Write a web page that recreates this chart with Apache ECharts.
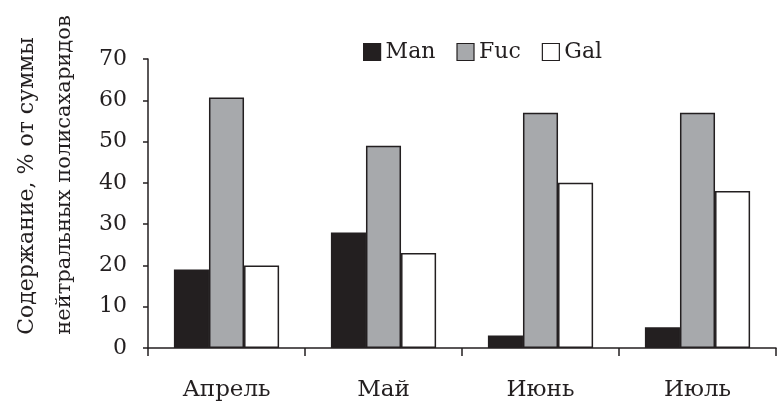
<!DOCTYPE html>
<html>
<head>
<meta charset="utf-8">
<script src="https://cdn.jsdelivr.net/npm/echarts@6/dist/echarts.min.js"></script>
<style>
  html, body { margin: 0; padding: 0; background: #fff; }
  #chart { width: 778px; height: 410px; }
</style>
</head>
<body>
<div id="chart"></div>
<script>
// Monthly content of neutral polysaccharide sugars, %
const months = ['Апрель', 'Май', 'Июнь', 'Июль'];
const manValues = [19, 28, 3, 5];
const fucValues = [60.7, 49, 57, 57];
const galValues = [20, 23, 40, 38];
const yTicks = { min: 0, max: 70, interval: 10 };

const FONT = 'DejaVu Serif';
const INK = '#231f20';

const chart = echarts.init(document.getElementById('chart'), null, { renderer: 'canvas' });

function barSeries(name, data, color) {
  return {
    name: name,
    type: 'bar',
    data: data,
    barGap: '0%',
    barCategoryGap: '33%',
    itemStyle: { color: color, borderColor: INK, borderWidth: 1.5 },
    emphasis: { disabled: true }
  };
}

chart.setOption({
  animation: false,
  backgroundColor: '#fff',
  textStyle: { fontFamily: FONT, color: INK },
  grid: { left: 148, right: 2, top: 59, bottom: 62, containLabel: false },
  legend: {
    left: 363,
    top: 41,
    padding: 0,
    itemWidth: 17,
    itemHeight: 17,
    itemGap: 21,
    icon: 'rect',
    textStyle: { fontFamily: FONT, fontSize: 22, color: INK },
    data: ['Man', 'Fuc', 'Gal'],
    itemStyle: { borderColor: INK, borderWidth: 1.2 }
  },
  xAxis: {
    type: 'category',
    data: months,
    axisLine: { lineStyle: { color: INK, width: 1.5 } },
    axisTick: { show: true, alignWithLabel: false, length: 8, lineStyle: { color: INK, width: 1.5 } },
    axisLabel: { fontFamily: FONT, fontSize: 23, color: INK, margin: 31 },
    splitLine: { show: false }
  },
  yAxis: {
    type: 'value',
    min: yTicks.min,
    max: yTicks.max,
    interval: yTicks.interval,
    axisLine: { show: true, lineStyle: { color: INK, width: 1.5 } },
    axisTick: { show: true, inside: false, length: 5, lineStyle: { color: INK, width: 1.5 } },
    axisLabel: { fontFamily: FONT, fontSize: 22, color: INK, margin: 21 },
    splitLine: { show: false }
  },
  graphic: [
    {
      type: 'text',
      x: 27, y: 186,
      rotation: Math.PI / 2,
      style: {
        text: 'Содержание, % от суммы',
        font: '22px "DejaVu Serif"',
        fill: INK,
        align: 'center',
        verticalAlign: 'middle'
      }
    },
    {
      type: 'text',
      x: 65, y: 175,
      rotation: Math.PI / 2,
      style: {
        text: 'нейтральных полисахаридов',
        font: '21px "DejaVu Serif"',
        fill: INK,
        align: 'center',
        verticalAlign: 'middle'
      }
    }
  ],
  series: [
    barSeries('Man', manValues, INK),
    barSeries('Fuc', fucValues, '#a7a9ac'),
    barSeries('Gal', galValues, '#ffffff')
  ]
});
</script>
</body>
</html>
